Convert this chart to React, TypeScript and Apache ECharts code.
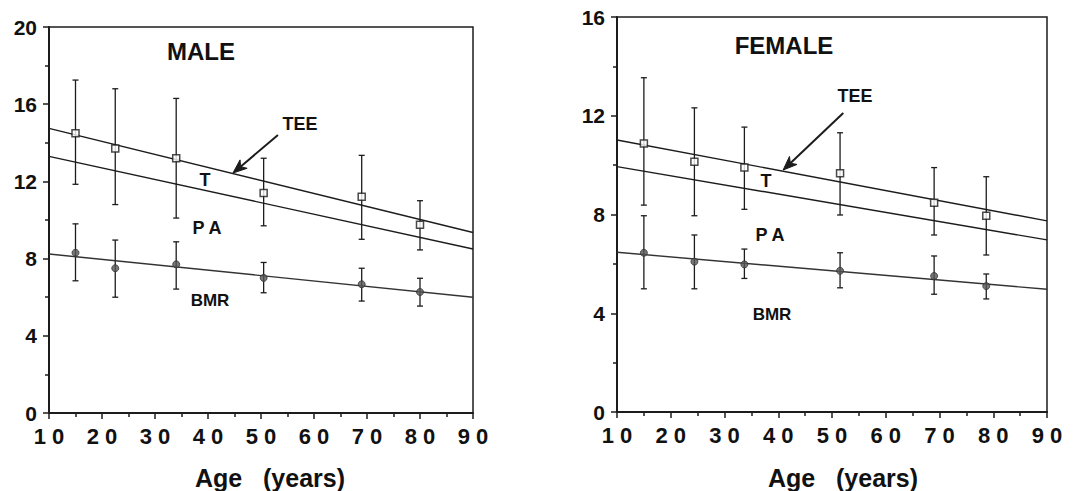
import React, { useEffect, useRef } from "react";
import * as echarts from "echarts";

// ---------- DATA ----------
const lineAges = [10, 90];

const agesM = [15, 22.5, 34, 50.5, 69, 80];
const teeM = [14.5, 13.7, 13.2, 11.4, 11.2, 9.75];
const teeMLow = [11.85, 10.8, 10.1, 9.7, 9.0, 8.45];
const teeMHigh = [17.25, 16.8, 16.3, 13.2, 13.35, 11.0];
const bmrM = [8.3, 7.5, 7.7, 7.0, 6.67, 6.27];
const bmrMLow = [6.85, 6.0, 6.42, 6.23, 5.8, 5.54];
const bmrMHigh = [9.8, 8.96, 8.87, 7.8, 7.5, 6.98];
const teeLineM = [14.75, 9.35];
const tLineM = [13.3, 8.5];
const bmrLineM = [8.24, 6.0];
const arrowM = [[53.2, 14.4], [44.7, 12.43]];

const agesF = [15, 24.4, 33.7, 51.5, 69, 78.7];
const teeF = [10.88, 10.14, 9.9, 9.67, 8.48, 7.95];
const teeFLow = [8.38, 7.95, 8.21, 7.98, 7.17, 6.36];
const teeFHigh = [13.54, 12.32, 11.54, 11.31, 9.9, 9.53];
const bmrF = [6.45, 6.09, 5.98, 5.72, 5.51, 5.1];
const bmrFLow = [4.99, 4.99, 5.41, 5.03, 4.77, 4.58];
const bmrFHigh = [7.95, 7.17, 6.6, 6.45, 6.32, 5.59];
const teeLineF = [11.02, 7.74];
const tLineF = [9.94, 6.97];
const bmrLineF = [6.47, 4.97];
const arrowF = [[52.1, 12.11], [40.9, 9.8]];

const xTicks = [10, 20, 30, 40, 50, 60, 70, 80, 90];
const yMaxM = 20;
const yMaxF = 16;
const xTitle = "Age   (years)";

const INK = "#1c1c1c";
const FONT = "'Liberation Sans', Arial, sans-serif";

function errorSeries(ages: number[], low: number[], high: number[], idx: number) {
  return {
    type: "custom",
    xAxisIndex: idx,
    yAxisIndex: idx,
    z: 2,
    silent: true,
    data: ages.map((a, i) => [a, low[i], high[i]]),
    encode: { x: 0, y: [1, 2] },
    renderItem: (params: any, api: any) => {
      const x = api.value(0);
      const lo = api.coord([x, api.value(1)]);
      const hi = api.coord([x, api.value(2)]);
      const cap = 3;
      const style = { stroke: INK, lineWidth: 1.3 };
      return {
        type: "group",
        children: [
          { type: "line", shape: { x1: lo[0], y1: lo[1], x2: hi[0], y2: hi[1] }, style },
          { type: "line", shape: { x1: lo[0] - cap, y1: lo[1], x2: lo[0] + cap, y2: lo[1] }, style },
          { type: "line", shape: { x1: hi[0] - cap, y1: hi[1], x2: hi[0] + cap, y2: hi[1] }, style },
        ],
      };
    },
  };
}

// Arrow drawn in data coordinates via a custom series (line + filled head)
function arrowSeries(arr: number[][], idx: number) {
  return {
    type: "custom",
    xAxisIndex: idx,
    yAxisIndex: idx,
    z: 5,
    silent: true,
    data: [[arr[0][0], arr[0][1], arr[1][0], arr[1][1]]],
    encode: { x: [0, 2], y: [1, 3] },
    renderItem: (params: any, api: any) => {
      const p0 = api.coord([api.value(0), api.value(1)]);
      const p1 = api.coord([api.value(2), api.value(3)]);
      const dx = p1[0] - p0[0];
      const dy = p1[1] - p0[1];
      const len = Math.sqrt(dx * dx + dy * dy);
      const ux = dx / len;
      const uy = dy / len;
      const hl = 14;
      const hw = 5.5;
      const bx = p1[0] - ux * hl;
      const by = p1[1] - uy * hl;
      const nx = bx + ux * 4;
      const ny = by + uy * 4;
      return {
        type: "group",
        children: [
          { type: "line", shape: { x1: p0[0], y1: p0[1], x2: nx, y2: ny }, style: { stroke: INK, lineWidth: 2 } },
          {
            type: "polygon",
            shape: {
              points: [
                [p1[0], p1[1]],
                [bx - uy * hw, by + ux * hw],
                [nx, ny],
                [bx + uy * hw, by - ux * hw],
              ],
            },
            style: { fill: INK, stroke: INK, lineWidth: 1 },
          },
        ],
      };
    },
  };
}

function regLine(vals: number[], idx: number, extra: any = {}) {
  return {
    type: "line",
    xAxisIndex: idx,
    yAxisIndex: idx,
    z: 3,
    silent: true,
    symbol: "none",
    data: lineAges.map((a, i) => [a, vals[i]]),
    lineStyle: { color: INK, width: 1.4 },
    ...extra,
  };
}

function scatter(ages: number[], vals: number[], idx: number, open: boolean) {
  return {
    type: "scatter",
    xAxisIndex: idx,
    yAxisIndex: idx,
    z: 4,
    silent: true,
    symbol: open ? "rect" : "circle",
    symbolSize: 7,
    data: ages.map((a, i) => [a, vals[i]]),
    itemStyle: open
      ? { color: "#fff", borderColor: INK, borderWidth: 1.5 }
      : { color: "#555", borderColor: "#333", borderWidth: 1 },
  };
}

function xAxis(idx: number) {
  return {
    type: "value",
    gridIndex: idx,
    min: 10,
    max: 90,
    interval: 10,
    axisLine: { show: true, onZero: false, lineStyle: { color: INK, width: 2 } },
    axisTick: { show: true, length: 6, lineStyle: { color: INK, width: 1.5 } },
    minorTick: { show: true, splitNumber: 2, length: 4, lineStyle: { color: INK, width: 1.5 } },
    splitLine: { show: false },
    axisLabel: {
      margin: 12,
      color: "#111",
      fontFamily: FONT,
      fontWeight: "bold",
      fontSize: 22,
      formatter: (v: number) => {
        const s = String(v);
        return xTicks.includes(v) ? s.split("").join(" ") : "";
      },
    },
  };
}

function yAxis(idx: number, max: number) {
  return {
    type: "value",
    gridIndex: idx,
    min: 0,
    max,
    interval: 4,
    axisLine: { show: true, lineStyle: { color: INK, width: 2 } },
    axisTick: { show: true, length: 6, lineStyle: { color: INK, width: 1.5 } },
    minorTick: { show: true, splitNumber: 2, length: 4, lineStyle: { color: INK, width: 1.5 } },
    splitLine: { show: false },
    axisLabel: {
      margin: 12,
      color: "#111",
      fontFamily: FONT,
      fontWeight: "bold",
      fontSize: 21,
    },
  };
}

function txt(x: number, y: number, text: string, size: number) {
  return {
    type: "text",
    x,
    y,
    silent: true,
    style: {
      text,
      fill: "#111",
      font: `bold ${size}px ${FONT}`,
      align: "center",
      verticalAlign: "middle",
    },
  };
}

export default function App() {
  const ref = useRef<HTMLDivElement>(null);
  useEffect(() => {
    if (!ref.current) return;
    const chart = echarts.init(ref.current, null, { renderer: "svg" });
    chart.setOption({
      animation: false,
      backgroundColor: "#fff",
      grid: [
        { left: 49, top: 27, width: 424, height: 386, show: true, borderColor: INK, borderWidth: 1.5, backgroundColor: "transparent" },
        { left: 617, top: 17, width: 430, height: 395, show: true, borderColor: INK, borderWidth: 1.5, backgroundColor: "transparent" },
      ],
      xAxis: [xAxis(0), xAxis(1)],
      yAxis: [yAxis(0, yMaxM), yAxis(1, yMaxF)],
      series: [
        errorSeries(agesM, teeMLow, teeMHigh, 0),
        errorSeries(agesM, bmrMLow, bmrMHigh, 0),
        regLine(teeLineM, 0),
        regLine(tLineM, 0),
        regLine(bmrLineM, 0, { lineStyle: { color: "#333", width: 1.4 } }),
        scatter(agesM, teeM, 0, true),
        scatter(agesM, bmrM, 0, false),
        arrowSeries(arrowM, 0),
        errorSeries(agesF, teeFLow, teeFHigh, 1),
        errorSeries(agesF, bmrFLow, bmrFHigh, 1),
        regLine(teeLineF, 1),
        regLine(tLineF, 1),
        regLine(bmrLineF, 1, { lineStyle: { color: "#333", width: 1.4 } }),
        scatter(agesF, teeF, 1, true),
        scatter(agesF, bmrF, 1, false),
        arrowSeries(arrowF, 1),
      ],
      graphic: [
        txt(201, 51, "MALE", 24),
        txt(300, 124, "TEE", 18),
        txt(205, 180, "T", 18),
        txt(207, 228, "P A", 18),
        txt(210, 300, "BMR", 17),
        txt(270, 478, xTitle, 25),
        txt(784, 45, "FEMALE", 24),
        txt(855, 96, "TEE", 18),
        txt(766, 181, "T", 18),
        txt(770, 235, "P A", 18),
        txt(772, 314, "BMR", 17),
        txt(843, 478, xTitle, 25),
      ],
    });
    return () => chart.dispose();
  }, []);
  return (
    <div
      ref={ref}
      style={{ position: "absolute", left: 0, top: 0, width: 1085, height: 491 }}
    />
  );
}
